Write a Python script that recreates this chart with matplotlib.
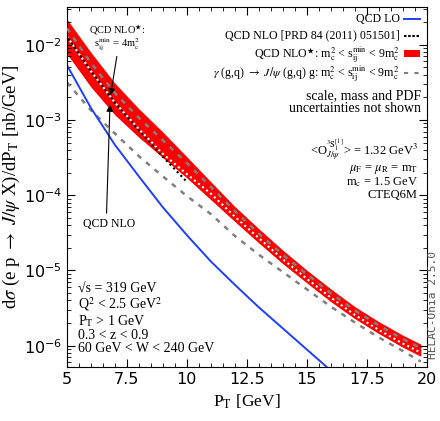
import numpy as np
import matplotlib
matplotlib.use('Agg')
import matplotlib.pyplot as plt
from matplotlib.patches import Rectangle
from matplotlib.ticker import MultipleLocator, LogLocator

plt.rcParams['mathtext.fontset'] = 'stix'

# P_T grid [GeV]
pt = [5, 6, 7, 8, 9, 10, 11, 12, 13, 14, 15, 16, 17, 18, 19, 19.75]

# QCD NLO* band, m_c^2 < s_ij^min < 9 m_c^2
band_hi = [2.19e-2, 7.94e-3, 3.09e-3, 1.41e-3, 6.92e-4, 3.24e-4, 1.51e-4, 7.08e-5,
           3.59e-5, 1.86e-5, 1.01e-5, 5.69e-6, 3.31e-6, 2.09e-6, 1.38e-6, 1.05e-6]
band_lo = [7.59e-3, 2.75e-3, 1.17e-3, 5.89e-4, 3.16e-4, 1.70e-4, 8.71e-5, 4.47e-5,
           2.32e-5, 1.23e-5, 6.84e-6, 3.85e-6, 2.29e-6, 1.45e-6, 9.55e-7, 7.24e-7]
# grey dashed curve inside the band
band_grey = [1.66e-2, 5.75e-3, 2.29e-3, 1.07e-3, 5.37e-4, 2.69e-4, 1.29e-4, 6.17e-5,
             3.09e-5, 1.62e-5, 8.91e-6, 5.01e-6, 2.95e-6, 1.86e-6, 1.23e-6, 9.33e-7]
# QCD NLO*, s_ij^min = 4 m_c^2 (white dots)
nlo_4mc = [1.29e-2, 4.47e-3, 1.70e-3, 7.59e-4, 3.55e-4, 1.91e-4, 1.05e-4, 5.19e-5,
           2.69e-5, 1.41e-5, 7.76e-6, 4.37e-6, 2.57e-6, 1.62e-6, 1.07e-6, 8.13e-7]
# gamma (g,q) -> J/psi (g,q) g
gam_gq = [3.16e-3, 1.35e-3, 6.61e-4, 3.31e-4, 1.78e-4, 9.77e-5, 5.62e-5, 2.88e-5,
          1.62e-5, 9.55e-6, 5.62e-6, 3.31e-6, 2.04e-6, 1.29e-6, 8.51e-7, 6.17e-7]

# QCD NLO [PRD 84 (2011) 051501]
pt_prd = [5, 6, 7, 8, 9, 10]
nlo_prd = [1.29e-2, 4.47e-3, 1.70e-3, 7.24e-4, 3.24e-4, 1.51e-4]

# QCD LO
pt_lo = [5, 6, 7, 8, 9, 10, 11, 12, 13, 14, 15, 16]
lo = [5.37e-3, 1.45e-3, 4.68e-4, 1.78e-4, 6.92e-5, 2.95e-5, 1.32e-5, 6.46e-6,
      3.24e-6, 1.70e-6, 8.91e-7, 4.68e-7]

serif = ['Liberation Serif', 'DejaVu Serif']
grey = '#808080'
blue = '#1f3fff'

fig = plt.figure(figsize=(4.4, 4.21), dpi=100)
ax = fig.add_axes([0.152, 0.128, 0.818, 0.855])

ax.fill_between(pt, band_lo, band_hi, color='red', lw=0, zorder=1)
ax.plot(pt, band_grey, color=grey, lw=1.8, ls=(0, (2, 2.5)), zorder=3)
ax.plot(pt, nlo_4mc, color='white', lw=1.5, ls=(0, (1, 1.5)), zorder=2)
ax.plot(pt_prd, nlo_prd, color='black', lw=1.5, ls=(1.25, (1, 1.5)), zorder=2)
ax.plot(pt, gam_gq, color=grey, lw=1.8, ls=(0, (2, 2.5)), zorder=2)
ax.plot(pt_lo, lo, color=blue, lw=1.4, zorder=2)

ax.set_yscale('log')
ax.set_xlim(5, 20)
ax.set_ylim(5.2e-7, 3.16e-2)
ax.xaxis.set_major_locator(MultipleLocator(2.5))
ax.xaxis.set_minor_locator(MultipleLocator(0.5))
ax.yaxis.set_minor_locator(LogLocator(base=10, subs=np.arange(2, 10)))
ax.tick_params(which='both', direction='in', top=True, right=True, labelsize=11.5)
ax.tick_params(which='major', length=6)
ax.tick_params(which='minor', length=3)
ax.set_xticks([5, 7.5, 10, 12.5, 15, 17.5, 20])
ax.set_xticklabels(['5', '7.5', '10', '12.5', '15', '17.5', '20'])

ax.set_xlabel(r'P$_{\rm T}$ [GeV]', fontsize=12.5, family=serif)
ax.set_ylabel(r'd$\sigma$ (e p $\rightarrow$ $J/\psi$ X)/dP$_{\rm T}$ [nb/GeV]',
              fontsize=13.5, family=serif, labelpad=1)

# legend, drawn row by row so the spacing stays even
leg_labels = ['QCD LO',
              'QCD NLO [PRD 84 (2011) 051501]',
              r'QCD NLO$^{\bigstar}$: m$_{\rm c}^2$ < s$_{\rm ij}^{\rm min}$ < 9m$_{\rm c}^2$',
              r'$\gamma$ (g,q) $\rightarrow$ $J/\psi$ (g,q) g: m$_{\rm c}^2$ < s$_{\rm ij}^{\rm min}$ < 9m$_{\rm c}^2$']
leg_y = [0.968, 0.921, 0.871, 0.817]
hx0, hx1 = 0.936, 0.981
for lab, yy in zip(leg_labels, leg_y):
    ax.text(0.925, yy, lab, transform=ax.transAxes, ha='right', va='center',
            fontsize=8.6, family=serif)
ax.plot([hx0, hx1], [leg_y[0]] * 2, transform=ax.transAxes, color=blue, lw=1.4)
ax.plot([hx0, hx1], [leg_y[1]] * 2, transform=ax.transAxes, color='black', lw=1.5,
        ls=(0, (1.2, 0.8)))
ax.add_patch(Rectangle((hx0, leg_y[2] - 0.009), hx1 - hx0, 0.018, transform=ax.transAxes,
                       color='red', lw=0))
ax.plot([hx0, hx1], [leg_y[3]] * 2, transform=ax.transAxes, color=grey, lw=1.5,
        ls=(0, (2, 3)))

ax.text(0.985, 0.772, 'scale, mass and PDF\nuncertainties not shown', transform=ax.transAxes,
        ha='right', va='top', fontsize=10, family=serif, linespacing=0.95)
ax.text(0.975, 0.64,
        r'<O$^{{}^3\rm S_1^{[1]}}_{J/\psi}$> = 1.32 GeV$^3$' + '\n'
        r'$\mu_{\rm F}$ = $\mu_{\rm R}$ = m$_{\rm T}$' + '\n'
        r'm$_{\rm c}$ = 1.5 GeV' + '\n' + 'CTEQ6M',
        transform=ax.transAxes, ha='right', va='top', fontsize=9, family=serif,
        linespacing=1.0, multialignment='right')
ax.text(0.03, 0.035,
        '\u221as = 319 GeV' + '\n'
        r'Q$^2$ < 2.5 GeV$^2$' + '\n'
        r'P$_{\rm T}$ > 1 GeV' + '\n'
        r'0.3 < z < 0.9' + '\n'
        r'60 GeV < W < 240 GeV',
        transform=ax.transAxes, ha='left', va='bottom', fontsize=10, family=serif,
        linespacing=0.98)

# annotations
tip = (6.8, 1.95e-3)
ax.text(7.1, 7.8e-3, 'QCD NLO$^{\\bigstar}$:\ns$_{\\rm ij}^{\\rm min}$ = 4m$_{\\rm c}^2$',
        ha='center', va='bottom', fontsize=7.5, family=serif, linespacing=0.9)
ax.annotate('', xy=tip, xytext=(7.1, 7.6e-3),
            arrowprops=dict(arrowstyle='-|>', color='black', lw=0.8, mutation_scale=10))
ax.text(6.75, 5.0e-5, 'QCD NLO', ha='center', va='top', fontsize=8.5, family=serif)
ax.annotate('', xy=(6.8, 1.75e-3), xytext=(6.65, 5.3e-5),
            arrowprops=dict(arrowstyle='-|>', color='black', lw=0.8, mutation_scale=10))

fig.text(0.995, 0.275, 'HELAC-Onia 2.5.0', rotation=90, ha='right', va='center',
         fontsize=8, family='DejaVu Sans Mono', color='#555555')

fig.savefig('out.png', dpi=100)
